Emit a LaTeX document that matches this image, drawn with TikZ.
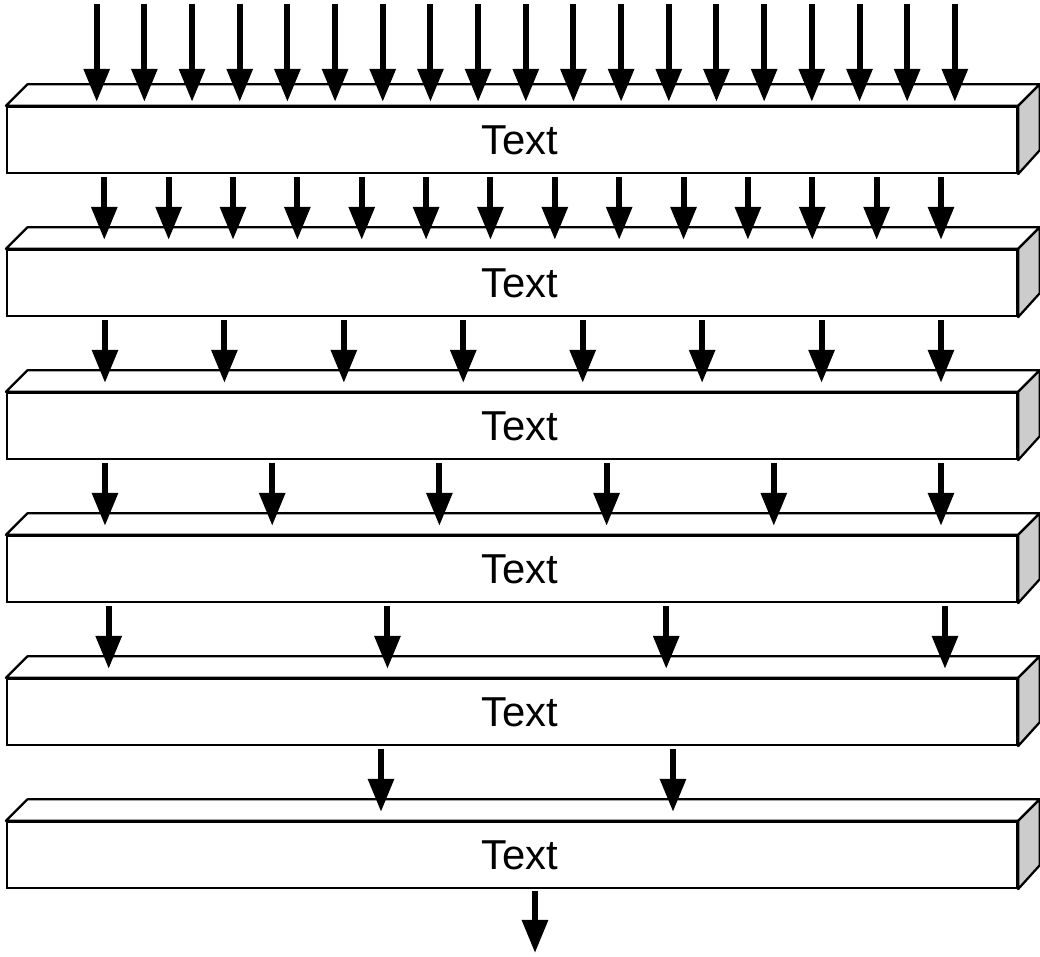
\documentclass[tikz,border=0pt]{standalone}
\usepackage{fontspec}
\setmainfont{Liberation Sans}
\usetikzlibrary{arrows.meta}
\tikzset{
  >={Triangle[length=0.66cm,width=0.5cm]},
  slab/.style={draw,line width=0.045cm,fill=white,minimum width=20.2cm,minimum height=1.32cm,
    inner sep=0pt},
  tag/.style={font=\fontsize{23.8}{28}\selectfont,inner sep=0pt},
  face/.style={draw,line width=0.045cm,fill=#1,line join=round},
  face/.default=white,
  flow/.style={->,line width=0.12cm},
}
\begin{document}
\begin{tikzpicture}
  \useasboundingbox (0,0) rectangle (20.8,19.14);
  % slabs
  \foreach \i in {1,...,6}{
    \node[slab] (b\i) at (10.24,{16.34-2.86*(\i-1)}) {};
    \draw[face] (b\i.north west) -- ++(0.43,0.43) -- ([shift={(0.43,0.43)}]b\i.north east) -- (b\i.north east) -- cycle;
    \draw[face=black!20] (b\i.north east) -- ++(0.43,0.43) -- ++(0,-1.32) -- (b\i.south east) -- cycle;
    \node[tag] (t\i) at ([xshift=0.15cm]b\i.center) {Text};
  }
  % inputs
  \foreach \k [evaluate=\k as \x using 1.934+0.9535*\k] in {0,...,18}{
    \coordinate (in\k) at (\x,19.06);
    \draw[flow] (in\k) -- ([yshift=0.08cm]\x,0 |- b1.north);
  }
  % between slabs
  \foreach \n/\a/\z [count=\i] in {14/2.086/18.82, 8/2.1/18.82, 6/2.1/18.82, 4/2.174/18.9, 2/7.62/13.46}{
    \pgfmathtruncatemacro\j{\i+1}
    \pgfmathtruncatemacro\m{\n-1}
    \pgfmathsetmacro\dx{(\z-\a)/\m}
    \foreach \k [evaluate=\k as \x using \a+\dx*\k] in {0,...,\m}
      \draw[flow] ([yshift=-0.06cm]\x,0 |- b\i.south) -- ([yshift=0.18cm]\x,0 |- b\j.north);
  }
  % output
  \coordinate (out) at (10.7,0.08);
  \draw[flow] ([yshift=-0.04cm]10.7,0 |- b6.south) -- (out);
\end{tikzpicture}
\end{document}
